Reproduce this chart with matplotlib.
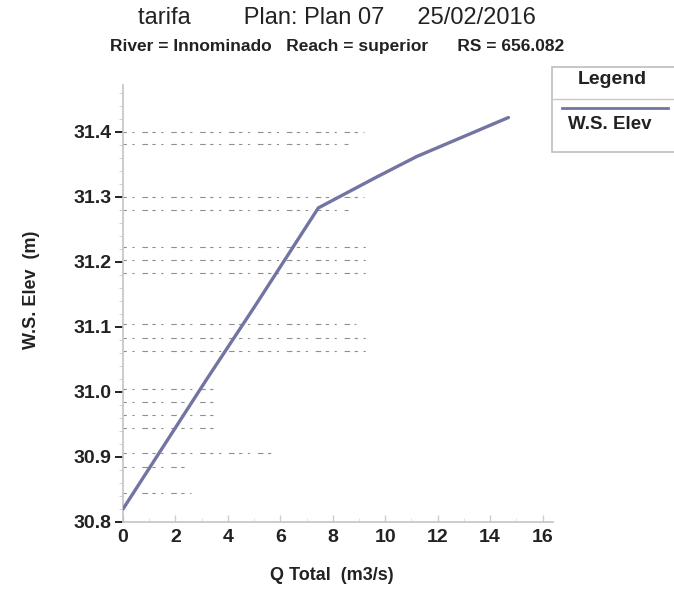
#!/usr/bin/env python3
"""Rating curve (W.S. Elev vs Q Total) at RS 656.082, HEC-RAS style."""

import matplotlib
matplotlib.use("Agg")
import matplotlib.pyplot as plt
from matplotlib.lines import Line2D
from matplotlib.patches import Rectangle
from matplotlib.ticker import MultipleLocator, FormatStrFormatter

# --- data ---
q_total = [0.0, 3.2, 5.0, 7.45, 9.7, 11.2, 14.7]
ws_elev = [30.82, 31.02, 31.13, 31.283, 31.331, 31.362, 31.422]

x_ticks = [0, 2, 4, 6, 8, 10, 12, 14, 16]
y_ticks = [30.8, 30.9, 31.0, 31.1, 31.2, 31.3, 31.4]

# faint dotted grid remnants left by the scan (level, right end in Q)
scan_grid_levels = [31.4, 31.382, 31.3, 31.28, 31.223, 31.203, 31.183, 31.105,
                    31.083, 31.063, 31.005, 30.985, 30.965, 30.945, 30.906,
                    30.885, 30.845]
scan_grid_ends = [9.2, 8.6, 9.2, 8.6, 9.3, 9.3, 9.3, 8.9,
                  9.3, 9.3, 3.6, 3.6, 3.6, 3.6, 5.7,
                  2.4, 2.6]

TEXT = "#222222"
LINE = "#7274a2"
FONT = ["Liberation Sans", "DejaVu Sans"]

plt.rcParams["font.family"] = FONT

fig = plt.figure(figsize=(6.74, 5.99), dpi=100)
ax = fig.add_axes([123 / 674, 1 - 522 / 599, (553 - 123) / 674, (522 - 85) / 599])

# scan remnants
for lev, end in zip(scan_grid_levels, scan_grid_ends):
    ax.plot([0, end], [lev, lev], color="#333333", lw=0.8, alpha=0.55,
            linestyle=(0, (3, 5, 2, 7, 5, 4)), zorder=1)

line, = ax.plot(q_total, ws_elev, color=LINE, lw=2.4, solid_capstyle="round", zorder=3)

ax.set_xlim(0, 16.4)
ax.set_ylim(30.8, 31.472)
ax.set_xticks(x_ticks)
ax.set_yticks(y_ticks)
ax.yaxis.set_major_formatter(FormatStrFormatter("%.1f"))
ax.xaxis.set_minor_locator(MultipleLocator(1))
ax.yaxis.set_minor_locator(MultipleLocator(0.02))

for s in ["top", "right"]:
    ax.spines[s].set_visible(False)
for s in ["left", "bottom"]:
    ax.spines[s].set_color("#c4c4c4")
    ax.spines[s].set_linewidth(1.2)

ax.tick_params(axis="y", which="major", direction="out", length=6, width=1.4,
               color=TEXT, labelsize=14, labelcolor=TEXT, pad=2)
ax.tick_params(axis="y", which="minor", direction="out", length=3, color="#c8c8c8")
ax.tick_params(axis="x", which="major", direction="in", length=5, width=1,
               color="#cccccc", labelsize=14, labelcolor=TEXT, pad=5)
ax.tick_params(axis="x", which="minor", direction="in", length=3, color="#dddddd")
for lbl in ax.get_xticklabels() + ax.get_yticklabels():
    lbl.set_fontweight("bold")

# axis titles
fig.text(332 / 674, 1 - 576 / 599, "Q Total  (m3/s)", ha="center", va="center",
         fontsize=13, fontweight="bold", color=TEXT)
fig.text(32 / 674, 1 - 290 / 599, "W.S. Elev  (m)", ha="center", va="center",
         rotation=90, fontsize=13, fontweight="bold", color=TEXT)

# titles
fig.text(337 / 674, 1 - 18 / 599, "tarifa        Plan: Plan 07     25/02/2016",
         ha="center", va="center", fontsize=17, color=TEXT)
fig.text(337 / 674, 1 - 46 / 599, "River = Innominado   Reach = superior      RS = 656.082",
         ha="center", va="center", fontsize=12.5, fontweight="bold", color=TEXT)

# legend box (cut off at the right edge, as in the reference)
box = Rectangle((552 / 674, 1 - 152 / 599), 130 / 674, (152 - 67) / 599,
                transform=fig.transFigure, facecolor="white", edgecolor="#bdbdbd",
                lw=1.2, zorder=5)
fig.patches.append(box)
fig.add_artist(Line2D([552 / 674, 1.0], [1 - 99 / 599] * 2, color="#c8c8c8", lw=1,
                      transform=fig.transFigure, zorder=6))
fig.text(612 / 674, 1 - 79 / 599, "Legend", ha="center", va="center",
         fontsize=14, fontweight="bold", color=TEXT, zorder=6)
fig.add_artist(Line2D([562 / 674, 668 / 674], [1 - 108 / 599] * 2,
                      color=line.get_color(), lw=2, transform=fig.transFigure, zorder=6))
fig.text(610 / 674, 1 - 124 / 599, "W.S. Elev", ha="center", va="center",
         fontsize=13.5, fontweight="bold", color=TEXT, zorder=6)

fig.savefig("out.png", dpi=100, facecolor="white")
